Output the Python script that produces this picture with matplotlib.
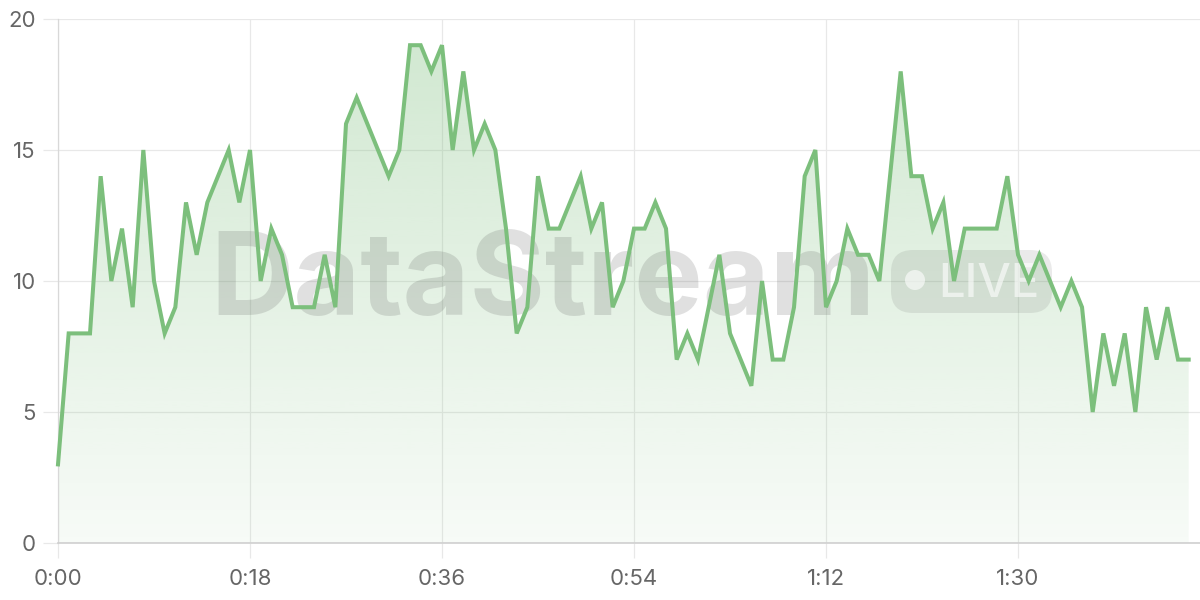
import numpy as np
import matplotlib.pyplot as plt
from matplotlib.patches import FancyBboxPatch, Circle
from matplotlib.transforms import IdentityTransform
from matplotlib.ticker import MultipleLocator, FuncFormatter

plt.rcParams['font.family'] = ['Inter', 'DejaVu Sans']

# one sample per second
seconds = np.arange(107)
values = [3, 8, 8, 8, 14, 10, 12, 9, 15, 10,
          8, 9, 13, 11, 13, 14, 15, 13, 15, 10,
          12, 11, 9, 9, 9, 11, 9, 16, 17, 16,
          15, 14, 15, 19, 19, 18, 19, 15, 18, 15,
          16, 15, 12, 8, 9, 14, 12, 12, 13, 14,
          12, 13, 9, 10, 12, 12, 13, 12, 7, 8,
          7, 9, 11, 8, 7, 6, 10, 7, 7, 9,
          14, 15, 9, 10, 12, 11, 11, 10, 14, 18,
          14, 14, 12, 13, 10, 12, 12, 12, 12, 14,
          11, 10, 11, 10, 9, 10, 9, 5, 8, 6,
          8, 5, 9, 7, 9, 7, 7]
y_ticks = [0, 5, 10, 15, 20]

line_color = '#7cbf7c'

fig = plt.figure(figsize=(12, 6), dpi=100)
ax = fig.add_axes([58 / 1200, 57 / 600, 1142 / 1200, 524 / 600])

# gradient fill under the line
poly = ax.fill_between(seconds, values, 0, facecolor='none', edgecolor='none')
grad = np.zeros((256, 1, 4))
grad[:, 0, 0] = 124 / 255
grad[:, 0, 1] = 190 / 255
grad[:, 0, 2] = 124 / 255
grad[:, 0, 3] = np.linspace(0.06, 0.36, 256)
im = ax.imshow(grad, extent=[seconds[0], seconds[-1], 0, 20], origin='lower',
               aspect='auto', zorder=1, interpolation='bilinear')
im.set_clip_path(poly.get_paths()[0], transform=ax.transData)

ax.plot(seconds, values, color=line_color, lw=2.9, zorder=4,
        solid_joinstyle='miter', clip_on=False)

ax.set_xlim(0, 107.06)
ax.set_ylim(0, 20)
ax.set_yticks(y_ticks)
ax.xaxis.set_major_locator(MultipleLocator(18))
ax.xaxis.set_major_formatter(FuncFormatter(lambda x, p: f"{int(x) // 60}:{int(x) % 60:02d}"))

ax.grid(True, color='#e8e8e8', lw=0.9)
ax.set_axisbelow(True)
for s in ['top', 'right']:
    ax.spines[s].set_visible(False)
ax.spines['left'].set_color('#d8d8d8')
ax.spines['bottom'].set_color('#cfcfcf')
ax.spines['left'].set_linewidth(0.9)
ax.spines['bottom'].set_linewidth(1.2)
ax.tick_params(axis='both', length=11, width=0.9, color='#e8e8e8',
               labelcolor='#666666', labelsize=16)
ax.tick_params(axis='y', pad=5)
ax.tick_params(axis='x', pad=8)

# watermark, above the fill but under the line
px = IdentityTransform()
ax.text(210, 600 - 315, 'DataStream', transform=px, fontsize=83, fontweight='bold',
        color='#555555', alpha=0.18, va='baseline', ha='left', zorder=2, clip_on=False)
pill = FancyBboxPatch((891, 600 - 313), 161, 63,
                      boxstyle='round,pad=0,rounding_size=22', transform=px,
                      facecolor='#555555', edgecolor='none', alpha=0.12, zorder=2,
                      clip_on=False)
ax.add_artist(pill)
dot = Circle((915, 600 - 280), 10, transform=px, facecolor='white',
             edgecolor='none', alpha=0.6, zorder=3, clip_on=False)
ax.add_artist(dot)
ax.text(938, 600 - 297, 'LIVE', transform=px, fontsize=34, fontweight='medium',
        color='white', alpha=0.6, va='baseline', ha='left', zorder=3, clip_on=False)

fig.savefig('out.png', dpi=100)
